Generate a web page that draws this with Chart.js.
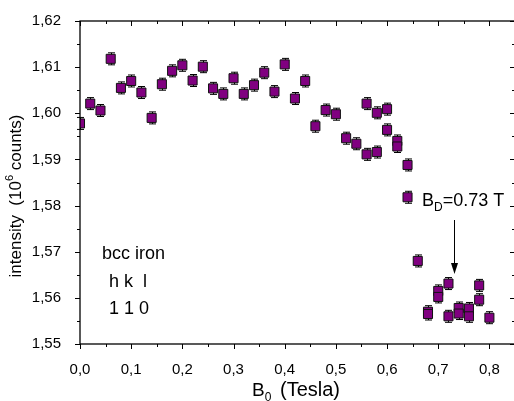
<!DOCTYPE html>
<html>
<head>
<meta charset="utf-8">
<script src="https://cdn.jsdelivr.net/npm/chart.js@4.4.1/dist/chart.umd.min.js"></script>
<style>
  html, body { margin: 0; padding: 0; background: #fff; overflow: hidden; }
  #wrap { width: 530px; height: 401px; }
</style>
</head>
<body>
<div id="wrap"><canvas id="c" width="530" height="401"></canvas></div>
<script>
// field B0 (Tesla) and measured intensity (10^6 counts)
var fieldT = [0.00, 0.02, 0.04, 0.06, 0.08, 0.10, 0.12, 0.14, 0.16, 0.18,
              0.20, 0.22, 0.24, 0.26, 0.28, 0.30, 0.32, 0.34, 0.36, 0.38,
              0.40, 0.42, 0.44, 0.46, 0.48, 0.50, 0.52, 0.54, 0.56, 0.56,
              0.58, 0.58, 0.60, 0.60, 0.62, 0.62, 0.64, 0.64, 0.66, 0.68,
              0.68, 0.70, 0.70, 0.72, 0.72, 0.74, 0.74, 0.76, 0.76, 0.78,
              0.78, 0.80];
var intensity = [1.5978, 1.6021, 1.6006, 1.6118, 1.6055, 1.6070, 1.6045, 1.5990, 1.6063, 1.6092,
                 1.6104, 1.6071, 1.6101, 1.6054, 1.6042, 1.6076, 1.6042, 1.6061, 1.6088, 1.6047,
                 1.6106, 1.6032, 1.6070, 1.5972, 1.6007, 1.5998, 1.5946, 1.5934, 1.6021, 1.5911,
                 1.6001, 1.5916, 1.6009, 1.5964, 1.5940, 1.5928, 1.5888, 1.5818, 1.5680, 1.5570,
                 1.5565, 1.5615, 1.5602, 1.5631, 1.5560, 1.5578, 1.5566, 1.5577, 1.5560, 1.5627,
                 1.5596, 1.5557];
var intensityErr = 0.0013;

var xTicks = [0.0, 0.1, 0.2, 0.3, 0.4, 0.5, 0.6, 0.7, 0.8];
var yTicks = [1.55, 1.56, 1.57, 1.58, 1.59, 1.60, 1.61, 1.62];

var FONT = '"Liberation Sans", Arial, sans-serif';

var points = fieldT.map(function (b, i) { return { x: b, y: intensity[i] }; });

function comma(v, d) { return v.toFixed(d).replace('.', ','); }

// frame with Origin-style ticks, error bars and annotations
var decor = {
    id: 'decor',
    beforeDatasetsDraw: function (chart) {
        var ctx = chart.ctx, xs = chart.scales.x, ys = chart.scales.y;
        ctx.save();
        ctx.strokeStyle = '#000';
        ctx.lineWidth = 1;
        points.forEach(function (p) {
            var px = Math.round(xs.getPixelForValue(p.x)) + 0.5;
            var y1 = ys.getPixelForValue(p.y + intensityErr);
            var y2 = ys.getPixelForValue(p.y - intensityErr);
            ctx.beginPath();
            ctx.moveTo(px, y1); ctx.lineTo(px, y2);
            ctx.moveTo(px - 3.5, y1); ctx.lineTo(px + 3.5, y1);
            ctx.moveTo(px - 3.5, y2); ctx.lineTo(px + 3.5, y2);
            ctx.stroke();
        });
        ctx.restore();
    },
    afterDraw: function (chart) {
        var ctx = chart.ctx, xs = chart.scales.x, ys = chart.scales.y;
        var a = chart.chartArea;
        ctx.save();
        ctx.strokeStyle = '#000';
        ctx.lineWidth = 1.3;
        ctx.strokeRect(a.left, a.top, a.right - a.left, a.bottom - a.top);

        ctx.lineWidth = 1;
        ctx.beginPath();
        // x ticks: outward at bottom, inward at top
        for (var v = 0; v <= 0.85 + 1e-9; v += 0.05) {
            var major = Math.abs(v * 10 - Math.round(v * 10)) < 1e-6;
            var len = major ? 5 : 3;
            var px = Math.round(xs.getPixelForValue(v)) + 0.5;
            ctx.moveTo(px, a.bottom); ctx.lineTo(px, a.bottom + len);
            ctx.moveTo(px, a.top); ctx.lineTo(px, a.top + len);
        }
        // y ticks: outward at left, inward at right
        for (var w = 1.55; w <= 1.62 + 1e-9; w += 0.005) {
            var majorY = Math.abs(w * 100 - Math.round(w * 100)) < 1e-6;
            var lenY = majorY ? 5 : 3;
            var py = Math.round(ys.getPixelForValue(w)) + 0.5;
            ctx.moveTo(a.left, py); ctx.lineTo(a.left - lenY, py);
            ctx.moveTo(a.right, py); ctx.lineTo(a.right - lenY, py);
        }
        ctx.stroke();

        ctx.fillStyle = '#000';
        ctx.textAlign = 'left';
        ctx.textBaseline = 'alphabetic';

        // sample label
        ctx.font = '18px ' + FONT;
        ctx.fillText('bcc iron', 102, 259);
        ctx.fillText('h k  l', 109, 287);
        ctx.fillText('1 1 0', 109, 314);

        // B_D label
        var lx = 422, ly = 206;
        ctx.fillText('B', lx, ly);
        lx += ctx.measureText('B').width;
        ctx.font = '12px ' + FONT;
        ctx.fillText('D', lx, ly + 5);
        lx += ctx.measureText('D').width;
        ctx.font = '18px ' + FONT;
        ctx.fillText('=0.73 T', lx, ly);

        // arrow to the transition field
        var ax = Math.round(xs.getPixelForValue(0.73)) + 0.5;
        ctx.beginPath();
        ctx.moveTo(ax, 220); ctx.lineTo(ax, 268);
        ctx.stroke();
        ctx.beginPath();
        ctx.moveTo(ax, 274); ctx.lineTo(ax - 3.5, 263); ctx.lineTo(ax + 3.5, 263);
        ctx.closePath();
        ctx.fill();

        // x axis title with subscript
        ctx.font = '19px ' + FONT;
        var tx = 252, tb = 396;
        ctx.fillText('B', tx, tb);
        tx += ctx.measureText('B').width;
        ctx.font = '12px ' + FONT;
        ctx.fillText('0', tx, tb + 5);
        ctx.font = '20px ' + FONT;
        ctx.fillText('(Tesla)', 280, tb);

        // y axis title with superscript, rotated
        ctx.translate(21, 196);
        ctx.rotate(-Math.PI / 2);
        var parts = [
            { t: 'intensity  (10', f: '17px ', dy: 0 },
            { t: '6', f: '11px ', dy: -8 },
            { t: ' counts)', f: '17px ', dy: 0 }
        ];
        var total = 0;
        parts.forEach(function (p) { ctx.font = p.f + FONT; total += ctx.measureText(p.t).width; });
        var cx = -total / 2;
        parts.forEach(function (p) {
            ctx.font = p.f + FONT;
            ctx.fillText(p.t, cx, p.dy);
            cx += ctx.measureText(p.t).width;
        });
        ctx.restore();
    }
};

new Chart(document.getElementById('c'), {
    type: 'scatter',
    data: {
        datasets: [{
            data: points,
            pointStyle: 'rect',
            pointRadius: 6.4,
            pointHoverRadius: 6.4,
            backgroundColor: '#800080',
            borderColor: '#111',
            borderWidth: 1
        }]
    },
    options: {
        responsive: false,
        animation: false,
        layout: { padding: { top: 21, right: 15, left: 0, bottom: 0 } },
        plugins: { legend: { display: false }, tooltip: { enabled: false } },
        scales: {
            x: {
                type: 'linear',
                min: 0, max: 0.85,
                afterFit: function (s) { s.height = 57; },
                afterBuildTicks: function (s) { s.ticks = xTicks.map(function (v) { return { value: v }; }); },
                grid: { display: false },
                border: { display: false },
                ticks: {
                    autoSkip: false, maxRotation: 0, padding: 9,
                    color: '#000', font: { family: FONT, size: 15 },
                    callback: function (v) { return comma(v, 1); }
                }
            },
            y: {
                type: 'linear',
                min: 1.55, max: 1.62,
                afterFit: function (s) { s.width = 80; },
                afterBuildTicks: function (s) { s.ticks = yTicks.map(function (v) { return { value: v }; }); },
                grid: { display: false },
                border: { display: false },
                ticks: {
                    autoSkip: false, padding: 11,
                    color: '#000', font: { family: FONT, size: 15 },
                    callback: function (v) { return comma(v, 2); }
                }
            }
        }
    },
    plugins: [decor]
});
</script>
</body>
</html>
